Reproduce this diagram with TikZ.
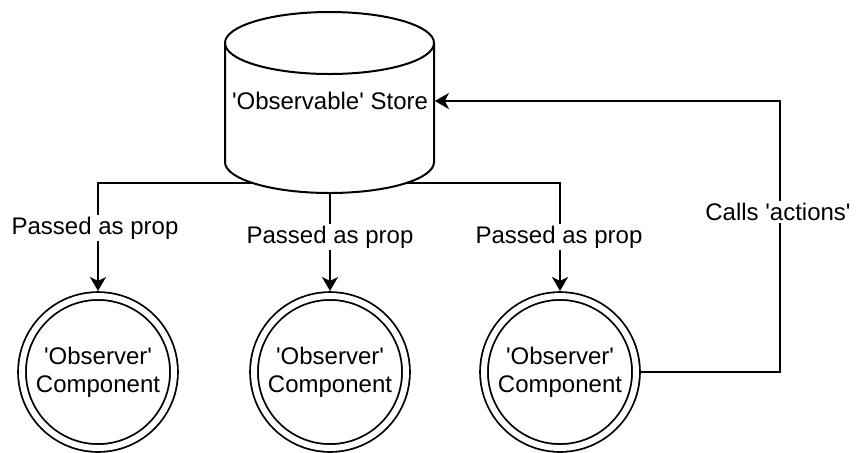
\documentclass[tikz,border=0pt]{standalone}
\usepackage{fontspec}
\setmainfont{Liberation Sans}
\usetikzlibrary{arrows.meta,backgrounds}
\newcommand{\sq}{\textquotesingle}
\begin{document}
\begin{tikzpicture}[x=0.5pt,y=-0.5pt,
  font=\fontsize{12pt}{14pt}\selectfont,
  conn/.style={draw,line width=1pt},
  arr/.style={conn,-{Stealth[length=7pt,width=8pt,inset=2pt]}},
  cyl/.style={draw=black,line width=1pt,fill=white},
  lbl/.style={fill=white,inner sep=1pt},
  observer/.style={circle,draw,line width=0.9pt,double,double distance=3pt,minimum size=76pt,
    outer sep=2.5pt,align=center,inner sep=0pt}]
\useasboundingbox (0,0) rectangle (856,452);
% store (text node sized like cylinder)
\node[minimum width=104.5pt,minimum height=90pt,inner sep=0pt] (store) at (330,101) {};
\node[observer] (o1) at (98,372) {\sq Observer\sq\\Component};
\node[observer] (o2) at (330,372) {\sq Observer\sq\\Component};
\node[observer] (o3) at (560,372) {\sq Observer\sq\\Component};
\coordinate (split) at (330,183);
\coordinate (turn) at (780,101);
\begin{pgfonlayer}{background}
\draw[arr] (store.center) -- (split) -| (o1.north);
\draw[arr] (store.center) -- (o2.north);
\draw[arr] (store.center) -- (split) -| (o3.north);
\end{pgfonlayer}
% cylinder
\path[cyl] (225,43) -- (225,162) arc[start angle=180,end angle=360,x radius=52.25pt,y radius=15.5pt]
  -- (434,43) arc[start angle=0,end angle=180,x radius=52.25pt,y radius=15.5pt] -- cycle;
\draw[cyl,fill=none] (225,43) arc[start angle=180,end angle=360,x radius=52.25pt,y radius=15.5pt];
\node at (store.center) {\sq Observable\sq{} Store};
\draw[arr] (o3.east) -| (turn) -- (store.east);
% labels
\node[lbl] (l1) at (95,228) {Passed as prop};
\node[lbl] (l2) at (330,237) {Passed as prop};
\node[lbl] (l3) at (559,237) {Passed as prop};
\node[lbl] (l4) at (778,212) {Calls \sq actions\sq};
\end{tikzpicture}
\end{document}
